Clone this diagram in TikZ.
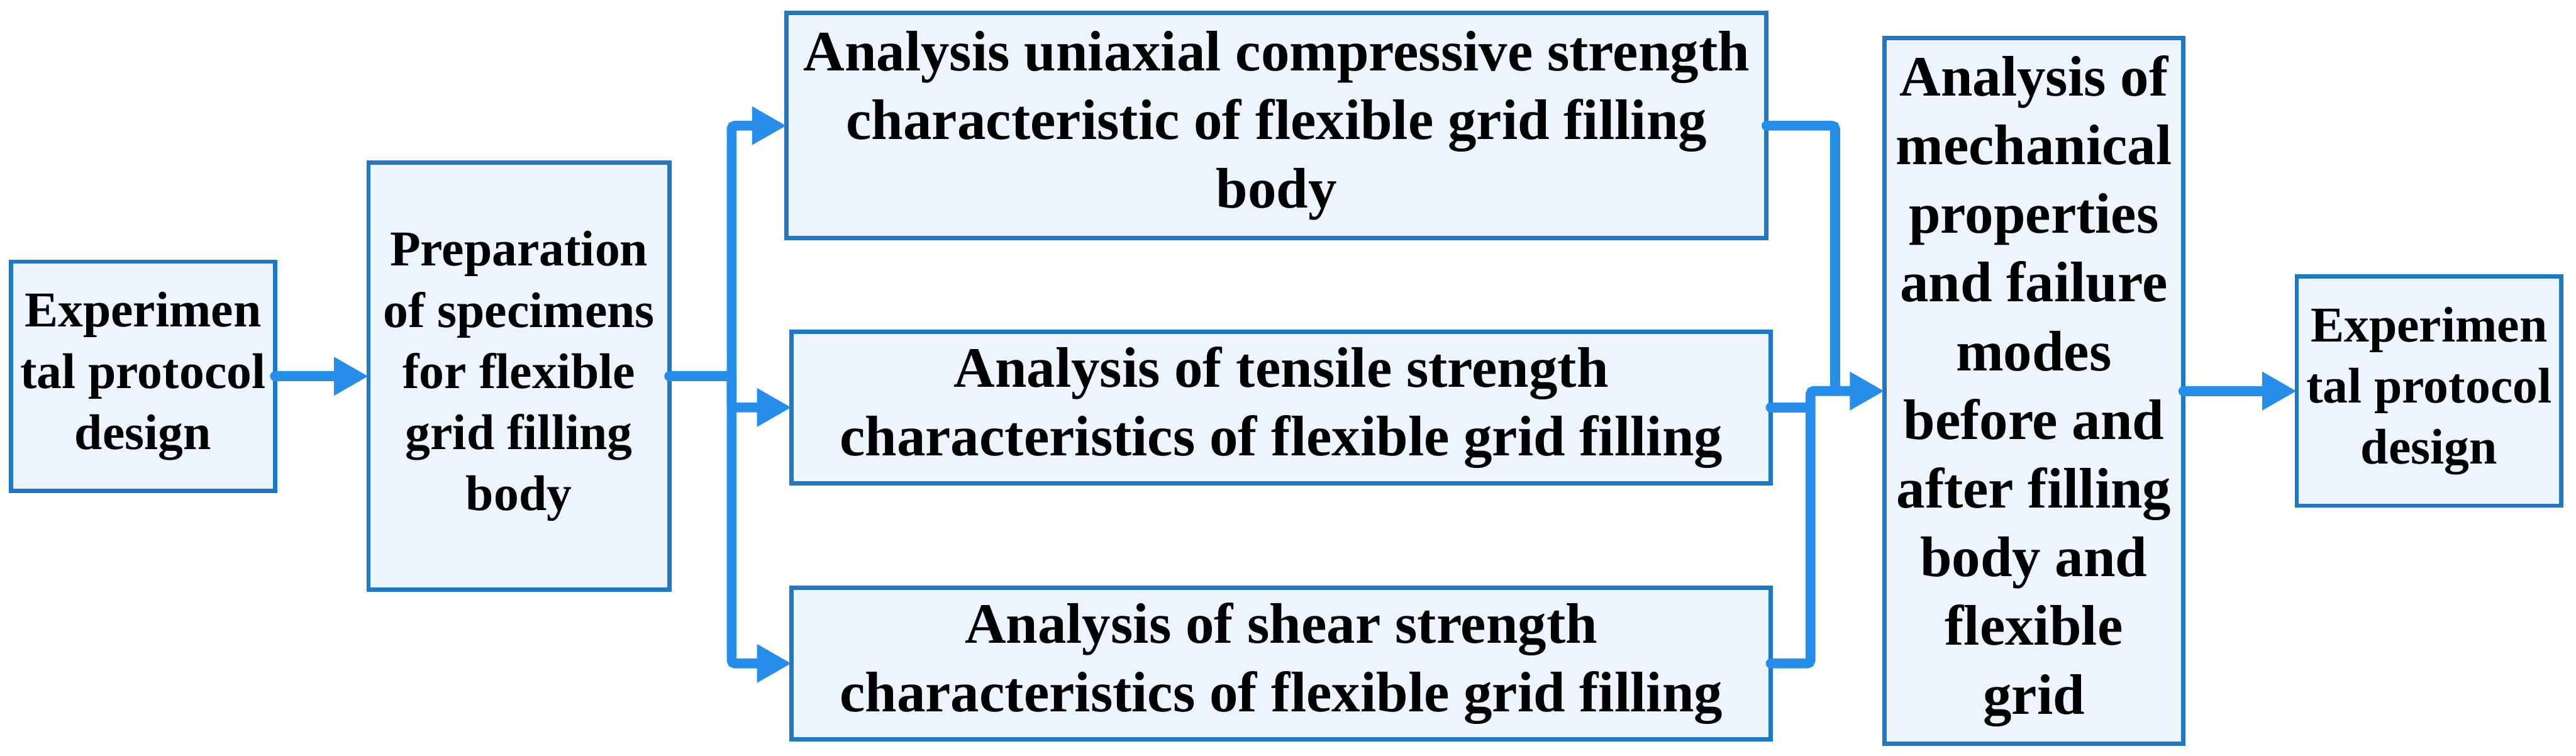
\documentclass[tikz,border=0pt]{standalone}
\usepackage{fontspec}
\setmainfont{Liberation Serif}
\usetikzlibrary{positioning, arrows.meta, calc}
\definecolor{fgborder}{HTML}{1E78C8}
\definecolor{fgfill}{HTML}{EEF4FD}
\definecolor{fgarrow}{HTML}{268EEA}

\begin{document}
\begin{tikzpicture}[x=1pt, y=-1pt,
    box/.style={draw=fgborder, fill=fgfill, line width=2.6pt, inner sep=0pt, outer sep=0pt, align=center, font=\bfseries\fontsize{30.5}{37.2}\selectfont},
    bigbox/.style={box, font=\bfseries\fontsize{34.8}{41.8}\selectfont},
    flow/.style={draw=fgarrow, line width=6pt, rounded corners=2pt, line cap=round},
    >={Triangle[length=21pt, width=22pt]}]
  \useasboundingbox (0,0) rectangle (1568,460);
  % boxes
  \node[box, minimum width=160.7pt, minimum height=139.5pt] (exp) at (87,229) {Experimen\\tal protocol\\design};
  \node[box, right=57pt of exp, minimum width=183pt, minimum height=260pt] (prep) {Preparation\\of specimens\\for flexible\\grid filling\\body};
  \node[bigbox, minimum width=596.5pt, minimum height=137pt] (comp) at (777,76.5) {Analysis uniaxial compressive strength\\characteristic of flexible grid filling\\body};
  \node[bigbox, minimum width=596pt, minimum height=92.4pt] (tens) at (779.8,248) {Analysis of tensile strength\\characteristics of flexible grid filling};
  \node[bigbox, below=63.4pt of tens, minimum width=596pt, minimum height=92.4pt] (shear) {Analysis of shear strength\\characteristics of flexible grid filling};
  \node[bigbox, minimum width=182pt, minimum height=429.5pt] (mech) at (1238,238) {Analysis of\\mechanical\\properties\\and failure\\modes\\before and\\after filling\\body and\\flexible\\grid};
  \node[box, right=69pt of mech, minimum width=161pt, minimum height=139.5pt] (out) {Experimen\\tal protocol\\design};
  % connectors
  \draw[flow, ->] (exp.east) -- (prep.west);
  \coordinate (splitL) at ($(prep.east)+(38,0)$);
  \draw[flow] (prep.east) -- (splitL);
  \foreach \n in {comp, tens, shear}
    \draw[flow, ->] (splitL) |- (\n.west);
  \coordinate (joinA) at ($(mech.west)+(-30,0)$);
  \coordinate (joinB) at ($(mech.west)+(-45,0)$);
  \draw[flow] (comp.east) -| (joinA);
  \draw[flow] (tens.east) -- (tens.east -| joinB);
  \draw[flow, ->] (shear.east) -| (joinB) -- (mech.west);
  \draw[flow, ->] (mech.east) -- (out.west);
\end{tikzpicture}
\end{document}
